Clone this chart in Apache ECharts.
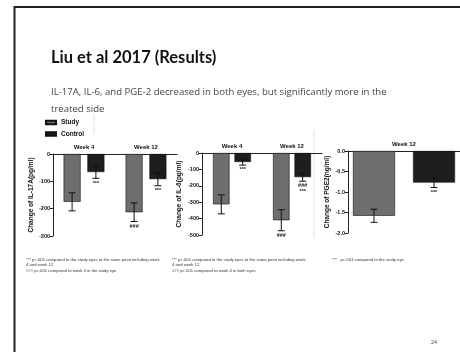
<!DOCTYPE html>
<html>
<head>
<meta charset="utf-8">
<script src="https://cdn.jsdelivr.net/npm/echarts@6.0.0/dist/echarts.min.js"></script>
<style>
  html, body { margin: 0; padding: 0; background: #fff; }
  #content { width: 460px; height: 352px; }
</style>
</head>
<body>
<div id="content"></div>
<script>
// weeks on each panel
const weeksAll = ['Week 4', 'Week 12'];
const weeksPge = ['Week 12'];

// IL-17A (pg/ml)
const il17Study = [-175, -213];
const il17StudyErr = [33, 34];
const il17Control = [-66, -92];
const il17ControlErr = [23, 24];
const il17StudyMarks = ['', '###'];
const il17ControlMarks = ['***', '***'];

// IL-6 (pg/ml)
const il6Study = [-313, -410];
const il6StudyErr = [58, 64];
const il6Control = [-55, -147];
const il6ControlErr = [19, 25];
const il6StudyMarks = ['', '###'];
const il6ControlMarks = ['***', '###\n***'];

// PGE2 (ng/ml)
const pgeStudy = [-1.58];
const pgeStudyErr = [0.16];
const pgeControl = [-0.77];
const pgeControlErr = [0.12];
const pgeStudyMarks = [''];
const pgeControlMarks = ['***'];

const STUDY = '#6e6e6e';
const CONTROL = '#1e1e1e';
const AX = '"Liberation Sans", Arial, sans-serif';

const chart = echarts.init(document.getElementById('content'));

function xAxisFor(gi, cats) {
  return {
    type: 'category', gridIndex: gi, position: 'top', data: cats,
    axisLine: { lineStyle: { color: '#222', width: 1 } },
    axisTick: { show: false },
    axisLabel: { fontFamily: AX, fontWeight: 'bold', fontSize: 6, color: '#111', margin: 4 }
  };
}

function yAxisFor(gi, name, min, interval, gap, digits) {
  return {
    type: 'value', gridIndex: gi, min: min, max: 0, interval: interval,
    name: name, nameLocation: 'middle', nameRotate: 90, nameGap: gap,
    nameTextStyle: { fontFamily: AX, fontWeight: 'bold', fontSize: 6.5, color: '#111' },
    axisLine: { show: true, lineStyle: { color: '#222', width: 1 } },
    axisTick: { show: true, length: 3, lineStyle: { color: '#222' } },
    splitLine: { show: false },
    axisLabel: {
      fontFamily: AX, fontWeight: 'bold', fontSize: 5.5, color: '#111', margin: 3,
      formatter: v => digits ? v.toFixed(digits) : String(v)
    }
  };
}

function barSeries(name, gi, values, color, width, gap) {
  return {
    type: 'bar', name: name, xAxisIndex: gi, yAxisIndex: gi, data: values,
    barWidth: width, barGap: gap,
    itemStyle: { color: color, borderColor: '#111', borderWidth: 0.6 },
    animation: false
  };
}

function errSeries(name, gi, means, errs, marks, offset) {
  return {
    type: 'custom', name: name, xAxisIndex: gi, yAxisIndex: gi, z: 5, silent: true,
    animation: false,
    data: means.map((m, i) => [i, m, errs[i]]),
    renderItem(params, api) {
      const i = api.value(0), m = api.value(1), e = api.value(2);
      const hi = api.coord([i, m + e]);
      const lo = api.coord([i, m - e]);
      const x = hi[0] + offset;
      const cap = 3.5;
      const st = { stroke: '#111', lineWidth: 1 };
      const kids = [
        { type: 'line', shape: { x1: x, y1: hi[1], x2: x, y2: lo[1] }, style: st },
        { type: 'line', shape: { x1: x - cap, y1: hi[1], x2: x + cap, y2: hi[1] }, style: st },
        { type: 'line', shape: { x1: x - cap, y1: lo[1], x2: x + cap, y2: lo[1] }, style: st }
      ];
      const mark = marks[params.dataIndex];
      if (mark) {
        kids.push({
          type: 'text',
          style: {
            text: mark, x: x, y: lo[1] + 2, align: 'center', verticalAlign: 'top',
            font: 'bold 5.5px ' + AX, fill: '#222', lineHeight: 5.5
          }
        });
      }
      return { type: 'group', children: kids };
    }
  };
}

function txt(x, y, text, font, fill) {
  return { type: 'text', x: x, y: y, style: { text: text, font: font, fill: fill, verticalAlign: 'middle' } };
}

const noteFont = '4.2px ' + AX;
const subFont = '9.6px "Open Sans", sans-serif';

chart.setOption({
  animation: false,
  legend: {
    data: ['Study', 'Control'], orient: 'vertical', left: 45, top: 119,
    icon: 'rect', itemWidth: 10, itemHeight: 3.5, itemGap: 4.5, padding: 0,
    textStyle: { fontFamily: AX, fontWeight: 'bold', fontSize: 6.5, color: '#111' },
    selectedMode: false
  },
  grid: [
    { left: 53, top: 154, width: 124, height: 82 },
    { left: 202, top: 153, width: 120, height: 82 },
    { left: 348, top: 151, width: 122, height: 82 }
  ],
  xAxis: [xAxisFor(0, weeksAll), xAxisFor(1, weeksAll), xAxisFor(2, weeksPge)],
  yAxis: [
    yAxisFor(0, 'Change of IL-17A(pg/ml)', -300, 100, 15, 0),
    yAxisFor(1, 'Change of IL-6(pg/ml)', -500, 100, 19, 0),
    yAxisFor(2, 'Change of PGE2(ng/ml)', -2, 0.5, 17, 1)
  ],
  series: [
    barSeries('Study', 0, il17Study, STUDY, 17, '40%'),
    barSeries('Control', 0, il17Control, CONTROL, 17, '40%'),
    errSeries('e1s', 0, il17Study, il17StudyErr, il17StudyMarks, -11.9),
    errSeries('e1c', 0, il17Control, il17ControlErr, il17ControlMarks, 11.9),

    barSeries('Study', 1, il6Study, STUDY, 16.5, '30%'),
    barSeries('Control', 1, il6Control, CONTROL, 16.5, '30%'),
    errSeries('e2s', 1, il6Study, il6StudyErr, il6StudyMarks, -10.7),
    errSeries('e2c', 1, il6Control, il6ControlErr, il6ControlMarks, 10.7),

    barSeries('Study', 2, pgeStudy, STUDY, 42, '43%'),
    barSeries('Control', 2, pgeControl, CONTROL, 42, '43%'),
    errSeries('e3s', 2, pgeStudy, pgeStudyErr, pgeStudyMarks, -30),
    errSeries('e3c', 2, pgeControl, pgeControlErr, pgeControlMarks, 30)
  ],
  graphic: [
    // slide frame
    { type: 'polyline', shape: { points: [[14.5, 352], [14.5, 7], [460, 7]] },
      style: { stroke: '#222', lineWidth: 2, fill: null } },
    // pasted-image edges
    { type: 'line', shape: { x1: 94, y1: 114, x2: 94, y2: 134 }, style: { stroke: '#ccc', lineWidth: 0.6 } },
    { type: 'line', shape: { x1: 314, y1: 130, x2: 314, y2: 238 }, style: { stroke: '#ccc', lineWidth: 0.6 } },
    txt(51, 57.5, 'Liu et al 2017 (Results)', 'bold 16.5px Lato, sans-serif', '#111'),
    txt(51, 92.5, 'IL-17A, IL-6, and PGE-2 decreased in both eyes, but significantly more in the', subFont, '#444'),
    txt(51, 109.5, 'treated side', subFont, '#444'),
    txt(26, 260, '*** p<.001 compared to the study eyes at the same point including week', noteFont, '#333'),
    txt(26, 265, '4 and week 12', noteFont, '#333'),
    txt(26, 271, '### p<.001 compared to week 4 in the study eye', noteFont, '#333'),
    txt(172, 260, '*** p<.001 compared to the study eyes at the same point including week', noteFont, '#333'),
    txt(172, 265, '4 and week 12', noteFont, '#333'),
    txt(172, 271, '### p<.001 compared to week 4 in both eyes', noteFont, '#333'),
    txt(332, 260, '***   p<.001 compared to the study eye', noteFont, '#333'),
    txt(431, 342, '24', '5.5px ' + AX, '#555')
  ]
});
</script>
</body>
</html>
